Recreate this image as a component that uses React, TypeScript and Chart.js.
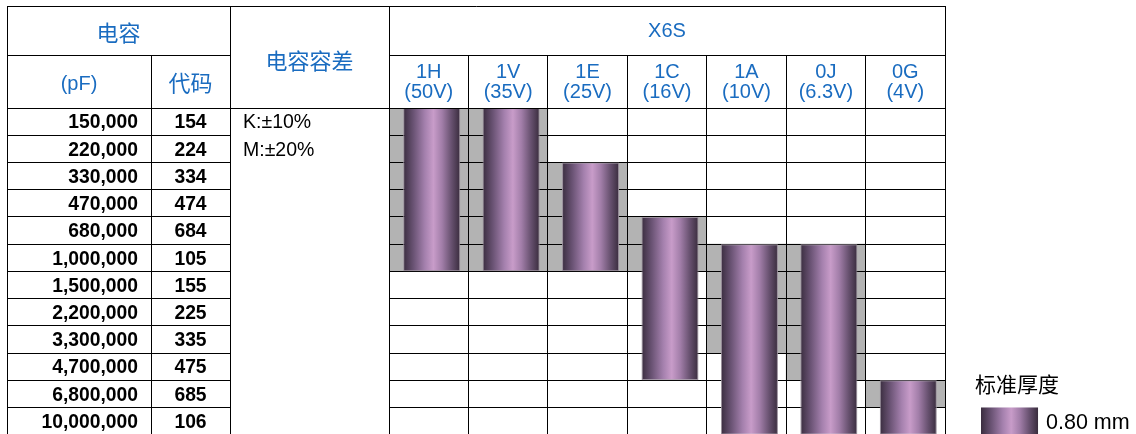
import React, { useEffect, useRef } from 'react';
import { Chart, registerables } from 'chart.js';

Chart.register(...registerables);

// ---------- data ----------
const seriesName = 'X6S';
const voltageCodes = ['1H', '1V', '1E', '1C', '1A', '0J', '0G'];
const voltageRatings = ['(50V)', '(35V)', '(25V)', '(16V)', '(10V)', '(6.3V)', '(4V)'];
const capacitanceLabels = [
  '150,000', '220,000', '330,000', '470,000', '680,000', '1,000,000',
  '1,500,000', '2,200,000', '3,300,000', '4,700,000', '6,800,000', '10,000,000',
];
const capacitanceCodes = ['154', '224', '334', '474', '684', '105', '155', '225', '335', '475', '685', '106'];
const toleranceLines = ['K:±10%', 'M:±20%'];
// row index ranges (start inclusive, end exclusive)
const thicknessStart = [0, 0, 2, 4, 5, 5, 10];
const thicknessEnd = [6, 6, 6, 10, 12, 12, 12];
const shadeStart = [0, 0, 2, 4, 5, 5, 10];
const shadeEnd = [6, 6, 6, 6, 9, 10, 11];
const headerCap = '电容';
const headerPf = '(pF)';
const headerCode = '代码';
const headerTol = '电容容差';
const legendTitle = '标准厚度';
const legendLabel = '0.80 mm';

// ---------- style ----------
const BLUE = '#1a6cc0';
const LATIN = '"Liberation Sans", Arial, Helvetica, sans-serif';
const CJK = '"Noto Sans CJK SC", "Noto Sans", sans-serif';
const BAR_FRACTION = 0.718;
const BAR_SHIFT = 3;
const COL_L0 = 7;
const COL_L1 = 151;
const COL_L2 = 230;
const TABLE_TOP = 6;
const HEAD_MID = 55;

function purpleGradient(ctx: CanvasRenderingContext2D, x0: number, x1: number) {
  const g = ctx.createLinearGradient(x0, 0, x1, 0);
  g.addColorStop(0, '#3a2d3f');
  g.addColorStop(0.18, '#6a5374');
  g.addColorStop(0.38, '#a480ad');
  g.addColorStop(0.53, '#c89cc9');
  g.addColorStop(0.68, '#a27ea9');
  g.addColorStop(0.85, '#66506e');
  g.addColorStop(1, '#392c3d');
  return g;
}

const crisp = (v: number) => Math.round(v - 0.5) + 0.5;

function hline(ctx: CanvasRenderingContext2D, y: number, x0: number, x1: number) {
  ctx.beginPath();
  ctx.moveTo(x0, crisp(y));
  ctx.lineTo(x1, crisp(y));
  ctx.stroke();
}
function vline(ctx: CanvasRenderingContext2D, x: number, y0: number, y1: number) {
  ctx.beginPath();
  ctx.moveTo(crisp(x), y0);
  ctx.lineTo(crisp(x), y1);
  ctx.stroke();
}

function colEdges(chart: any) {
  const xs = chart.scales.x;
  const n = voltageCodes.length;
  const w = xs.width / n;
  const edges: number[] = [];
  for (let i = 0; i <= n; i++) {
    const c = xs.getPixelForValue(Math.min(i, n - 1));
    edges.push(i < n ? c - w / 2 : c + w / 2);
  }
  return edges;
}

const tablePlugin = {
  id: 'capTable',
  beforeDatasetDraw(chart: any, args: any) {
    if (args.index === 0) {
      chart.ctx.save();
      chart.ctx.translate(BAR_SHIFT, 0);
    }
  },
  afterDatasetDraw(chart: any, args: any) {
    if (args.index === 0) {
      chart.ctx.restore();
      return;
    }
    if (args.index !== 1) return;
    const ctx: CanvasRenderingContext2D = chart.ctx;
    const ys = chart.scales.y;
    const { left, right, top, bottom } = chart.chartArea;
    ctx.save();
    ctx.strokeStyle = '#000';
    ctx.lineWidth = 1;
    for (let i = 0; i <= capacitanceLabels.length; i++) {
      hline(ctx, ys.getPixelForValue(i), left, right);
    }
    const edges = colEdges(chart);
    edges.forEach((x) => vline(ctx, x, top, bottom + 2));
    ctx.restore();
  },
  afterDraw(chart: any) {
    const ctx: CanvasRenderingContext2D = chart.ctx;
    const ys = chart.scales.y;
    const xs = chart.scales.x;
    const { left, right, top, bottom } = chart.chartArea;
    const edges = colEdges(chart);
    ctx.save();
    ctx.strokeStyle = '#000';
    ctx.lineWidth = 1;
    // outer & header lines
    hline(ctx, TABLE_TOP, COL_L0, right + 0.5);
    hline(ctx, HEAD_MID, COL_L0, COL_L2);
    hline(ctx, HEAD_MID, left, right);
    hline(ctx, top, COL_L0, right);
    for (let i = 0; i <= capacitanceLabels.length; i++) {
      hline(ctx, ys.getPixelForValue(i), COL_L0, COL_L2);
    }
    vline(ctx, COL_L0, TABLE_TOP, bottom + 2);
    vline(ctx, COL_L1, HEAD_MID, bottom + 2);
    vline(ctx, COL_L2, TABLE_TOP, bottom + 2);
    vline(ctx, left, TABLE_TOP, bottom + 2);
    vline(ctx, right, TABLE_TOP, bottom + 2);
    edges.slice(1, -1).forEach((x) => vline(ctx, x, HEAD_MID, top));

    // header text
    ctx.fillStyle = BLUE;
    ctx.textBaseline = 'alphabetic';
    ctx.textAlign = 'center';
    ctx.font = `22px ${CJK}`;
    ctx.fillText(headerCap, (COL_L0 + COL_L2) / 2, 41);
    ctx.fillText(headerCode, (COL_L1 + COL_L2) / 2, 91);
    ctx.fillText(headerTol, (COL_L2 + left) / 2, 69);
    ctx.font = `20px ${LATIN}`;
    ctx.fillText(headerPf, (COL_L0 + COL_L1) / 2, 90);
    ctx.fillText(seriesName, (left + right) / 2, 37);
    voltageCodes.forEach((v, i) => {
      const cx = xs.getPixelForValue(i);
      ctx.fillText(v, cx, 78);
      ctx.fillText(voltageRatings[i], cx, 98);
    });

    // rows
    ctx.fillStyle = '#000';
    ctx.font = `bold 19.3px ${LATIN}`;
    capacitanceLabels.forEach((lab, i) => {
      const cy = ys.getPixelForValue(i + 0.5) + 6.8;
      ctx.textAlign = 'right';
      ctx.fillText(lab, COL_L1 - 13, cy);
      ctx.textAlign = 'center';
      ctx.fillText(capacitanceCodes[i], (COL_L1 + COL_L2) / 2, cy);
    });
    ctx.font = `19.5px ${LATIN}`;
    ctx.textAlign = 'left';
    toleranceLines.forEach((t, i) => {
      ctx.fillText(t, COL_L2 + 13, ys.getPixelForValue(i + 0.5) + 6.8);
    });

    // legend
    ctx.font = `21px ${CJK}`;
    ctx.fillText(legendTitle, right + 30, 392);
    const sw = (xs.width / voltageCodes.length) * BAR_FRACTION;
    const sx = right + 36;
    const sy = ys.getPixelForValue(capacitanceLabels.length - 1);
    ctx.fillStyle = purpleGradient(ctx, sx, sx + sw);
    ctx.fillRect(sx, sy, sw, 40);
    ctx.fillStyle = '#000';
    ctx.font = `21.5px ${LATIN}`;
    ctx.fillText(legendLabel, sx + sw + 8, ys.getPixelForValue(capacitanceLabels.length - 0.5) + 7.5);
    ctx.restore();
  },
};

export default function App() {
  const canvasRef = useRef<HTMLCanvasElement | null>(null);

  useEffect(() => {
    document.body.style.margin = '0';
    document.body.style.overflow = 'hidden';
    const canvas = canvasRef.current;
    if (!canvas) return;
    const chart = new Chart(canvas, {
      type: 'bar',
      data: {
        labels: voltageCodes,
        datasets: [
          {
            label: legendTitle,
            data: voltageCodes.map((_, i) => [thicknessStart[i], thicknessEnd[i]]) as any,
            backgroundColor: (c: any) => {
              const ch = c.chart;
              const xs = ch.scales && ch.scales.x;
              const area = ch.chartArea;
              if (!xs || !area || c.dataIndex === undefined) return '#a07fa8';
              const cx = xs.getPixelForValue(c.dataIndex);
              const half = ((area.right - area.left) / voltageCodes.length) * BAR_FRACTION / 2;
              if (!Number.isFinite(cx) || !Number.isFinite(half)) return '#a07fa8';
              return purpleGradient(ch.ctx, cx - half, cx + half);
            },
            borderColor: '#9a8f9c',
            borderWidth: 1,
            borderSkipped: false,
            barPercentage: BAR_FRACTION,
            categoryPercentage: 1,
            grouped: false,
          } as any,
          {
            label: 'shade',
            data: voltageCodes.map((_, i) => [shadeStart[i], shadeEnd[i]]) as any,
            backgroundColor: '#b3b3b3',
            borderWidth: 0,
            barPercentage: 1,
            categoryPercentage: 1,
            grouped: false,
          } as any,
        ],
      },
      options: {
        animation: false,
        responsive: false,
        maintainAspectRatio: false,
        events: [],
        layout: { padding: { left: 389, right: 191, top: 108, bottom: 5.3 } },
        scales: {
          x: { display: false, offset: true },
          y: { display: false, type: 'linear', min: 0, max: 12, reverse: true },
        },
        plugins: { legend: { display: false }, tooltip: { enabled: false } },
      },
      plugins: [tablePlugin],
    });
    return () => chart.destroy();
  }, []);

  return (
    <div style={{ position: 'fixed', left: 0, top: 0, width: 1136, height: 434, overflow: 'hidden', background: '#fff' }}>
      <canvas ref={canvasRef} width={1136} height={440} style={{ display: 'block' }} />
    </div>
  );
}
